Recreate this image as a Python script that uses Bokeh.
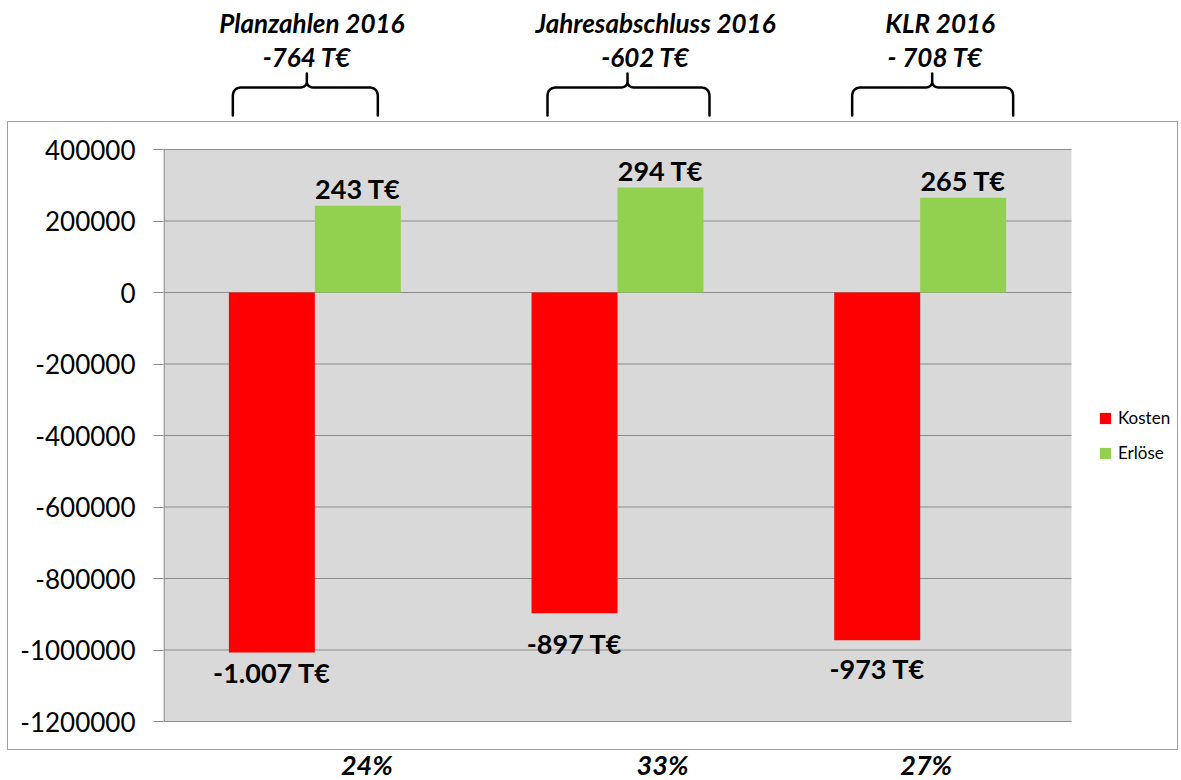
import numpy as np
from bokeh.plotting import figure
from bokeh.models import (ColumnDataSource, Range1d, Legend, LegendItem,
                          FixedTicker, CustomJSTickFormatter)
from bokeh.core.properties import value
from bokeh.embed import file_html
from bokeh.resources import INLINE

# ---------------- data ----------------
groups = ["Planzahlen 2016", "Jahresabschluss 2016", "KLR 2016"]
kosten = [-1007000, -897000, -973000]
erloese = [243000, 294000, 265000]
saldo_labels = ["-764 T€", "-602 T€", "- 708 T€"]
quote_labels = ["24%", "33%", "27%"]
y_min, y_max, y_step = -1200000, 400000, 200000
series_names = ["Kosten", "Erlöse"]


def teur(v):
    n = int(round(v / 1000.0))
    s = f"{abs(n):,}".replace(",", ".")
    return ("-" if n < 0 else "") + s + " T€"


# ---------------- layout (page px) ----------------
W, H = 1181, 780
FONT = "Lato"
RED, GREEN = "#FF0000", "#92D050"
GRID = "#8C8C8C"
BORDER = "#A0A0A0"
AREA_L, AREA_R, AREA_T, AREA_B = 163, 1071, 149, 721   # gray plot area
GW = (AREA_R - AREA_L) / len(groups)                   # px per group
KY = (y_max - y_min) / (AREA_B - AREA_T)               # value per px


def dx(page_x):
    return (page_x - AREA_L) / GW


def dy(page_y):
    return y_max - (page_y - AREA_T) * KY


def gpx(i, off):
    return AREA_L + (i + 0.5) * GW + off


n = len(groups)
ticks = list(range(y_min, y_max + 1, y_step))

p = figure(width=W, height=H, output_backend="svg", toolbar_location=None,
           x_range=Range1d(dx(AREA_L), dx(W)), y_range=Range1d(dy(H), dy(0)),
           min_border_left=AREA_L, min_border_right=0, min_border_top=0, min_border_bottom=0)
grad = "linear-gradient(%s, %s)" % (BORDER, BORDER)
p.styles = {
    "background-color": "white",
    "background-image": ", ".join([grad] * 4),
    "background-size": "1171px 1px, 1171px 1px, 1px 629px, 1px 629px",
    "background-position": "7px 121px, 7px 749px, 7px 121px, 1177px 121px",
    "background-repeat": "no-repeat",
}
p.background_fill_alpha = 0
p.border_fill_alpha = 0
p.outline_line_color = None
p.xaxis.visible = False
p.grid.visible = False

ax = p.yaxis[0]
ax.ticker = FixedTicker(ticks=ticks)
ax.formatter = CustomJSTickFormatter(code="return tick.toFixed(0);")
ax.major_label_text_font = FONT
ax.major_label_text_font_size = "26px"
ax.major_label_text_color = "black"
ax.major_tick_out = 10
ax.major_tick_in = 0
ax.minor_tick_line_color = None
ax.major_tick_line_color = GRID
ax.axis_line_color = None
ax.major_label_standoff = 18

# plot area, gridlines, left edge
p.quad(left=dx(AREA_L), right=dx(AREA_R), bottom=y_min, top=y_max,
       fill_color="#D9D9D9", line_color=None)
p.segment(x0=[dx(AREA_L)] * len(ticks), x1=[dx(AREA_R)] * len(ticks), y0=ticks, y1=ticks,
          line_color=GRID, line_width=1.2)
p.segment(x0=[dx(AREA_L + 0.6)], x1=[dx(AREA_L + 0.6)], y0=[y_min], y1=[y_max],
          line_color=GRID, line_width=1.2)

bw = 0.284
src = ColumnDataSource(dict(
    xk=[i + 0.5 - bw / 2 for i in range(n)], xe=[i + 0.5 + bw / 2 for i in range(n)],
    kosten=kosten, erloese=erloese,
    k_lbl=[teur(v) for v in kosten], e_lbl=[teur(v) for v in erloese],
    k_off=[20, 30, 28],
))

r1 = p.vbar(x="xk", top="kosten", bottom=0, width=bw, source=src,
            fill_color=RED, line_color=None)
r2 = p.vbar(x="xe", top="erloese", bottom=0, width=bw, source=src,
            fill_color=GREEN, line_color=None)

p.text(x="xk", y="kosten", text="k_lbl", source=src,
       y_offset="k_off", text_align="center", text_baseline="middle",
       text_font=value(FONT), text_font_style="bold", text_font_size="27px", text_color="black")
p.text(x="xe", y="erloese", text="e_lbl", source=src,
       y_offset=-17, text_align="center", text_baseline="middle",
       text_font=value(FONT), text_font_style="bold", text_font_size="27px", text_color="black")

legend = Legend(items=[LegendItem(label=series_names[0], renderers=[r1]),
                       LegendItem(label=series_names[1], renderers=[r2])],
                location=(935, 317), orientation="vertical",
                border_line_color=None, background_fill_alpha=0, padding=0, margin=0,
                glyph_width=14, glyph_height=14, label_height=14, spacing=14,
                label_standoff=6, label_text_font=FONT, label_text_font_size="17px",
                label_text_color="black")
p.add_layout(legend)

# ---------------- header: titles, saldo, braces; footer: percentages ----------------
title_off = [-3, 38, 20]
saldo_off = [-8, 28, 15]
quote_off = [52, 45, 6]
brace_off = [(-82, -8, 63), (-70, 10, 92), (-68, 12, 93)]

p.text(x=[dx(gpx(i, title_off[i])) for i in range(n)], y=[dy(22.5)] * n,
       text=groups, text_align="center", text_baseline="middle", text_font=value(FONT),
       text_font_style="bold italic", text_font_size="26px", text_color="black")
p.text(x=[dx(gpx(i, saldo_off[i])) for i in range(n)], y=[dy(56.5)] * n,
       text=saldo_labels, text_align="center", text_baseline="middle", text_font=value(FONT),
       text_font_style="bold italic", text_font_size="26px", text_color="black")
p.text(x=[dx(gpx(i, quote_off[i])) for i in range(n)], y=[dy(764)] * n,
       text=quote_labels, text_align="center", text_baseline="middle", text_font=value(FONT),
       text_font_style="bold italic", text_font_size="27px", text_color="black")


def qbez(p0, c, p1, k=10):
    t = np.linspace(0, 1, k)
    x = (1 - t) ** 2 * p0[0] + 2 * (1 - t) * t * c[0] + t ** 2 * p1[0]
    y = (1 - t) ** 2 * p0[1] + 2 * (1 - t) * t * c[1] + t ** 2 * p1[1]
    return list(zip(x, y))


def brace_path(L, T, R, yt=73, ym=87, yb=115, r=9):
    pts = [(L, yb), (L, ym + r)]
    pts += qbez((L, ym + r), (L, ym), (L + r, ym))
    pts += [(T - 8, ym)]
    pts += qbez((T - 8, ym), (T, ym), (T, ym - 6))
    pts += [(T, yt), (T, ym - 6)]
    pts += qbez((T, ym - 6), (T, ym), (T + 8, ym))
    pts += [(R - r, ym)]
    pts += qbez((R - r, ym), (R, ym), (R, ym + r))
    pts += [(R, yb)]
    return pts


for i in range(n):
    L, T, R = (gpx(i, o) for o in brace_off[i])
    pts = brace_path(L, T, R)
    p.line(x=[dx(x) for x, _ in pts], y=[dy(y) for _, y in pts], line_color="black",
           line_width=2.5, line_join="round", line_cap="round")

open("out.html", "w").write(file_html(p, INLINE))
